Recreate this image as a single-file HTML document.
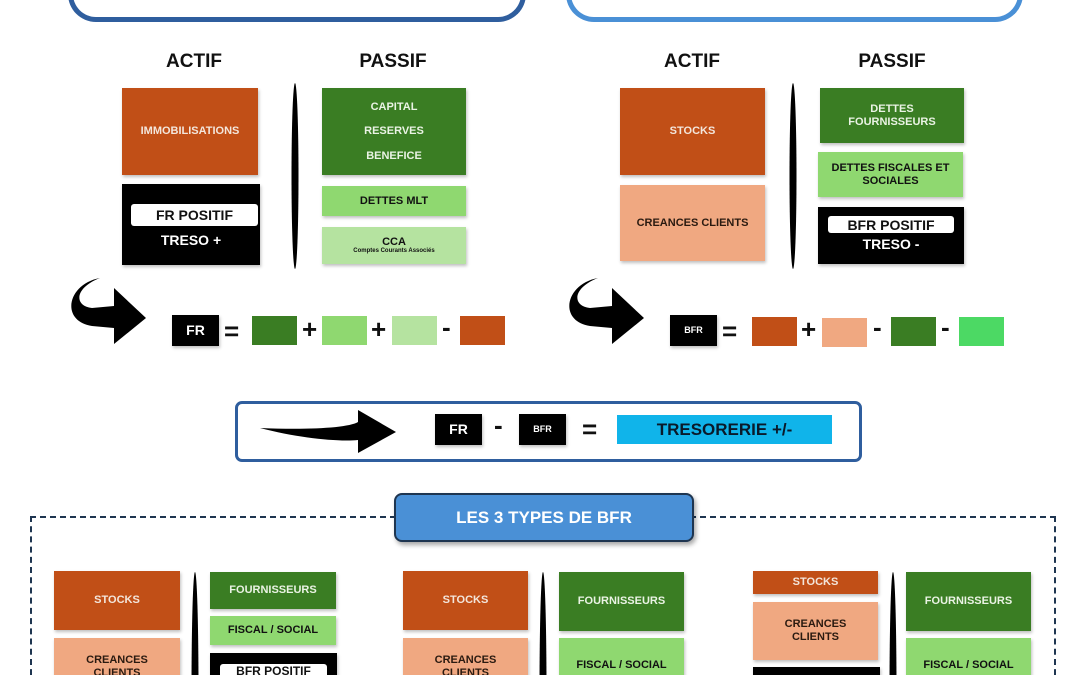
<!DOCTYPE html>
<html><head><meta charset="utf-8">
<style>
*{margin:0;padding:0;box-sizing:border-box}
html,body{width:1080px;height:675px;overflow:hidden;background:#fff;font-family:"Liberation Sans",sans-serif;font-weight:bold}
#w{position:relative;width:1080px;height:675px;overflow:hidden}
.a{position:absolute}
.b{position:absolute;display:flex;align-items:center;justify-content:center;text-align:center;font-size:11px;line-height:1.15;box-shadow:1px 2px 3px rgba(0,0,0,.25)}
.or{background:#c14f17;color:#f3e6dc}
.dg{background:#3a7d23;color:#eaf3e4}
.lg{background:#8fd870;color:#111}
.pg{background:#b5e3a0;color:#111}
.sa{background:#f0a881;color:#2a1a10}
.bk{background:#000;color:#fff}
.h{position:absolute;font-size:19px;color:#111;text-align:center;width:120px}
.pill{position:absolute;background:#fff;color:#111;border-radius:3px;display:flex;align-items:center;justify-content:center;font-size:14px}
.sq{position:absolute;width:45px;height:29px}
.op{position:absolute;font-size:26px;color:#111;line-height:26px}
</style></head><body><div id="w">

<div class="a" style="left:68px;top:-40px;width:458px;height:62px;border:5px solid #2f5e9e;border-radius:0 0 28px 28px;border-top:none"></div>
<div class="a" style="left:566px;top:-40px;width:457px;height:62px;border:5px solid #4a90d6;border-radius:0 0 28px 28px;border-top:none"></div>

<div class="h" style="left:134px;top:51px">ACTIF</div>
<div class="h" style="left:333px;top:51px">PASSIF</div>
<div class="b or" style="left:122px;top:88px;width:136px;height:87px">IMMOBILISATIONS</div>
<div class="b bk" style="left:122px;top:184px;width:138px;height:81px"></div>
<div class="pill" style="left:131px;top:204px;width:127px;height:22px">FR POSITIF</div>
<div class="a" style="left:122px;top:232px;width:138px;text-align:center;color:#fff;font-size:14px">TRESO +</div>
<svg class="a" style="left:289px;top:82px" width="12" height="188"><ellipse cx="6" cy="94" rx="3.5" ry="93" fill="#000"/></svg>
<div class="b dg" style="left:322px;top:88px;width:144px;height:87px;flex-direction:column;gap:12px"><span>CAPITAL</span><span>RESERVES</span><span>BENEFICE</span></div>
<div class="b lg" style="left:322px;top:186px;width:144px;height:30px">DETTES MLT</div>
<div class="b pg" style="left:322px;top:227px;width:144px;height:37px;flex-direction:column"><span style="font-size:11px">CCA</span><span style="font-size:6px">Comptes Courants Associés</span></div>

<svg class="a" style="left:62px;top:276px" width="88" height="72"><path d="M38 2 C5 8 -2 45 30 50 L52 52 L52 68 L84 42 L52 12 L52 30 L30 32 C12 30 12 12 38 2Z" fill="#000"/></svg>
<div class="b bk" style="left:172px;top:315px;width:47px;height:31px;font-size:14px">FR</div>
<div class="op" style="left:224px;top:318px">=</div>
<div class="sq" style="left:252px;top:316px;background:#3a7d23"></div>
<div class="op" style="left:302px;top:316px">+</div>
<div class="sq" style="left:322px;top:316px;background:#8fd870"></div>
<div class="op" style="left:371px;top:316px">+</div>
<div class="sq" style="left:392px;top:316px;background:#b5e3a0"></div>
<div class="op" style="left:442px;top:314px">-</div>
<div class="sq" style="left:460px;top:316px;background:#c14f17"></div>

<div class="h" style="left:632px;top:51px">ACTIF</div>
<div class="h" style="left:832px;top:51px">PASSIF</div>
<div class="b or" style="left:620px;top:88px;width:145px;height:87px">STOCKS</div>
<div class="b sa" style="left:620px;top:185px;width:145px;height:76px">CREANCES CLIENTS</div>
<svg class="a" style="left:787px;top:82px" width="12" height="188"><ellipse cx="6" cy="94" rx="3.5" ry="93" fill="#000"/></svg>
<div class="b dg" style="left:820px;top:88px;width:144px;height:55px">DETTES<br>FOURNISSEURS</div>
<div class="b lg" style="left:818px;top:152px;width:145px;height:45px">DETTES FISCALES ET<br>SOCIALES</div>
<div class="b bk" style="left:818px;top:207px;width:146px;height:57px"></div>
<div class="pill" style="left:828px;top:216px;width:126px;height:17px">BFR POSITIF</div>
<div class="a" style="left:818px;top:236px;width:146px;text-align:center;color:#fff;font-size:14px">TRESO -</div>

<svg class="a" style="left:560px;top:276px" width="88" height="72"><path d="M38 2 C5 8 -2 45 30 50 L52 52 L52 68 L84 42 L52 12 L52 30 L30 32 C12 30 12 12 38 2Z" fill="#000"/></svg>
<div class="b bk" style="left:670px;top:315px;width:47px;height:31px;font-size:9px">BFR</div>
<div class="op" style="left:722px;top:318px">=</div>
<div class="sq" style="left:752px;top:317px;background:#c14f17"></div>
<div class="op" style="left:801px;top:316px">+</div>
<div class="sq" style="left:822px;top:318px;background:#f0a881"></div>
<div class="op" style="left:873px;top:314px">-</div>
<div class="sq" style="left:891px;top:317px;background:#3a7d23"></div>
<div class="op" style="left:941px;top:314px">-</div>
<div class="sq" style="left:959px;top:317px;background:#4cd964"></div>

<div class="a" style="left:235px;top:401px;width:627px;height:61px;border:3px solid #2f5e9e;border-radius:7px"></div>
<svg class="a" style="left:258px;top:408px" width="140" height="46"><path d="M2 20 C50 22 90 20 100 14 L100 2 L138 24 L100 45 L100 32 C80 34 40 30 2 20Z" fill="#000"/></svg>
<div class="b bk" style="left:435px;top:414px;width:47px;height:31px;font-size:14px">FR</div>
<div class="op" style="left:494px;top:412px">-</div>
<div class="b bk" style="left:519px;top:414px;width:47px;height:31px;font-size:9px">BFR</div>
<div class="op" style="left:582px;top:416px">=</div>
<div class="b" style="left:617px;top:415px;width:215px;height:29px;background:#10b4ea;color:#0a1a2a;font-size:17px;box-shadow:none">TRESORERIE +/-</div>

<div class="a" style="left:30px;top:516px;width:1026px;height:200px;border:2px dashed #1e3550"></div>
<div class="b" style="left:394px;top:493px;width:300px;height:49px;background:#4a90d6;color:#fff;border:2px solid #1e3550;border-radius:8px;font-size:17px;box-shadow:2px 3px 5px rgba(0,0,0,.35)">LES 3 TYPES DE BFR</div>

<div class="b or" style="left:54px;top:571px;width:126px;height:59px">STOCKS</div>
<div class="b sa" style="left:54px;top:638px;width:126px;height:60px;align-items:flex-start;padding-top:16px">CREANCES<br>CLIENTS</div>
<svg class="a" style="left:189px;top:570px" width="12" height="120"><ellipse cx="6" cy="120" rx="3.5" ry="118" fill="#000"/></svg>
<div class="b dg" style="left:210px;top:572px;width:126px;height:37px">FOURNISSEURS</div>
<div class="b lg" style="left:210px;top:616px;width:126px;height:29px">FISCAL / SOCIAL</div>
<div class="b bk" style="left:210px;top:653px;width:127px;height:40px"></div>
<div class="pill" style="left:220px;top:664px;width:107px;height:18px;font-size:12px;align-items:flex-start">BFR POSITIF</div>

<div class="b or" style="left:403px;top:571px;width:125px;height:59px">STOCKS</div>
<div class="b sa" style="left:403px;top:638px;width:125px;height:60px;align-items:flex-start;padding-top:16px">CREANCES<br>CLIENTS</div>
<svg class="a" style="left:537px;top:570px" width="12" height="120"><ellipse cx="6" cy="120" rx="3.5" ry="118" fill="#000"/></svg>
<div class="b dg" style="left:559px;top:572px;width:125px;height:59px">FOURNISSEURS</div>
<div class="b lg" style="left:559px;top:638px;width:125px;height:60px;align-items:flex-start;padding-top:21px">FISCAL / SOCIAL</div>

<div class="b or" style="left:753px;top:571px;width:125px;height:23px">STOCKS</div>
<div class="b sa" style="left:753px;top:602px;width:125px;height:58px">CREANCES<br>CLIENTS</div>
<div class="b bk" style="left:753px;top:667px;width:127px;height:30px"></div>
<svg class="a" style="left:887px;top:570px" width="12" height="120"><ellipse cx="6" cy="120" rx="3.5" ry="118" fill="#000"/></svg>
<div class="b dg" style="left:906px;top:572px;width:125px;height:59px">FOURNISSEURS</div>
<div class="b lg" style="left:906px;top:638px;width:125px;height:60px;align-items:flex-start;padding-top:21px">FISCAL / SOCIAL</div>

</div></body></html>
